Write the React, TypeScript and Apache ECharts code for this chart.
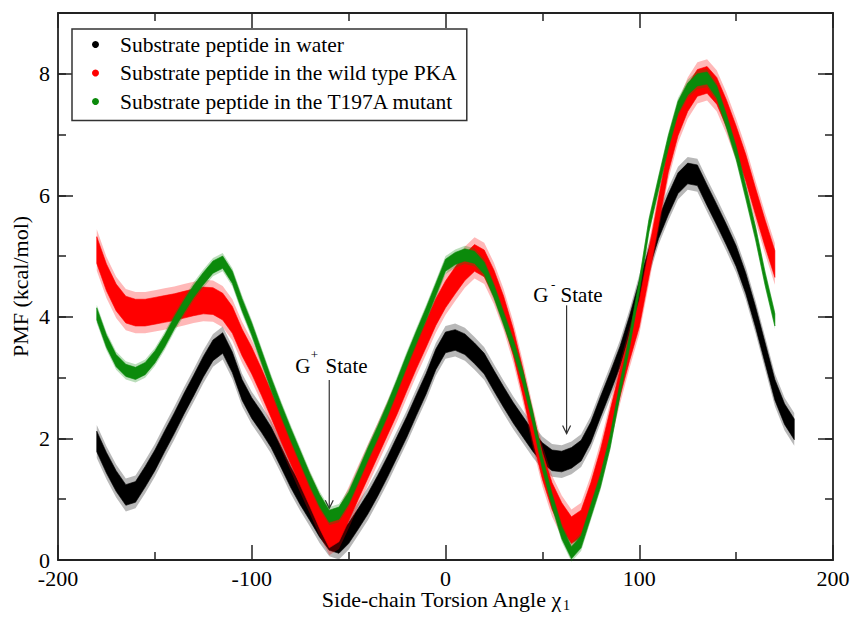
import React, { useEffect, useRef } from "react";
import * as echarts from "echarts";

// ---------- data ----------
const angles = [
  -180, -175, -170, -165, -160, -155, -150, -145, -140, -135, -130, -125, -120, -115, -110, -105,
  -100, -95, -90, -85, -80, -75, -70, -65, -60, -55, -50, -45, -40, -35, -30, -25, -20, -15, -10, -5,
  0, 5, 10, 15, 20, 25, 30, 35, 40, 45, 50, 55, 60, 65, 70, 75, 80, 85, 90, 95, 100, 105, 110, 115,
  120, 125, 130, 135, 140, 145, 150, 155, 160, 165, 170, 175, 180,
];

const waterPMF = [
  1.95, 1.6, 1.3, 1.07, 1.12, 1.37, 1.64, 1.95, 2.25, 2.57, 2.87, 3.18, 3.45, 3.57, 3.25, 2.8,
  2.5, 2.27, 2.02, 1.7, 1.37, 1.08, 0.82, 0.55, 0.33, 0.28, 0.44, 0.68, 0.93, 1.22, 1.53, 1.86, 2.19, 2.55, 2.9, 3.3,
  3.58, 3.62, 3.55, 3.4, 3.23, 2.95, 2.68, 2.42, 2.19, 1.96, 1.76, 1.64, 1.62, 1.68, 1.8, 2.1, 2.52, 2.92, 3.34, 3.85, 4.42, 4.95, 5.46, 5.85,
  6.2, 6.36, 6.33, 6.0, 5.68, 5.35, 5.0, 4.55, 4.0, 3.4, 2.8, 2.4, 2.15,
];

// wild type and mutant stop at 170 degrees
const wildTypePMF = [
  5.1, 4.65, 4.32, 4.12, 4.07, 4.07, 4.1, 4.13, 4.16, 4.2, 4.24, 4.27, 4.26, 4.17, 3.95, 3.58,
  3.28, 2.93, 2.56, 2.18, 1.81, 1.45, 1.1, 0.74, 0.42, 0.52, 0.86, 1.22, 1.57, 1.92, 2.27, 2.62, 3.0, 3.37, 3.72, 4.08,
  4.37, 4.6, 4.82, 4.97, 4.88, 4.55, 4.12, 3.58, 2.92, 2.2, 1.55, 1.05, 0.72, 0.49, 0.6, 1.05, 1.6, 2.25, 2.9, 3.5, 4.05, 4.88, 5.75, 6.6,
  7.2, 7.6, 7.85, 7.9, 7.72, 7.35, 6.92, 6.45, 5.9, 5.37, 4.87,
];

const mutantPMF = [
  4.05, 3.6, 3.28, 3.12, 3.07, 3.15, 3.34, 3.6, 3.9, 4.17, 4.42, 4.63, 4.82, 4.9, 4.65, 4.2,
  3.8, 3.35, 2.9, 2.48, 2.08, 1.7, 1.32, 0.98, 0.72, 0.77, 1.02, 1.38, 1.75, 2.1, 2.47, 2.87, 3.28, 3.67, 4.05, 4.45,
  4.85, 4.96, 5.02, 4.98, 4.8, 4.42, 3.97, 3.52, 3.0, 2.35, 1.6, 0.98, 0.45, 0.12, 0.3, 0.8, 1.3, 1.95, 2.8, 3.6, 4.5, 5.5, 6.2, 6.88,
  7.45, 7.75, 7.9, 7.93, 7.7, 7.22, 6.7, 6.05, 5.38, 4.62, 3.95,
];

// vertical spread (half width, kcal/mol) of each scatter cloud: dense core, sparse fringe
const waterSpread = [0.17, 0.27];
const wildTypeSpread = [0.22, 0.34];
const mutantSpread = [0.1, 0.15];

const seriesNames = [
  "Substrate peptide in water",
  "Substrate peptide in the wild type PKA",
  "Substrate peptide in the T197A mutant",
];
const seriesColors = ["#000000", "#ff0000", "#0b8a0b"];

const xTickMin = -200;
const xTickMax = 200;
const xTickStep = 100;
const yTickMin = 0;
const yTickMax = 9;
const yTickStep = 2;

// annotations: label, superscript, angle, arrow top PMF, arrow tip PMF
const annotationLabels = ["G", "G"];
const annotationSups = ["+", "-"];
const annotationAngles = [-60, 62.5];
const annotationTops = [2.96, 4.19];
const annotationTips = [0.85, 2.08];

const FONT = "Liberation Serif";

function bandSeries(name: string, xs: number[], ys: number[], spread: number[], color: string) {
  const [core, fringe] = spread;
  return {
    type: "custom",
    name,
    silent: true,
    itemStyle: { color },
    data: xs.map((x, i) => [x, ys[i] - core, ys[i] + core]),
    encode: { x: 0, y: [1, 2] },
    renderItem: (params: any, api: any) => {
      if (params.dataIndex !== 0) return null;
      const poly = (hw: number) =>
        xs
          .map((x, i) => api.coord([x, ys[i] + hw]))
          .concat(xs.map((x, i) => api.coord([x, ys[i] - hw])).reverse());
      return {
        type: "group",
        children: [
          { type: "polygon", shape: { points: poly(fringe) }, style: { fill: color, opacity: 0.28 } },
          { type: "polygon", shape: { points: poly(core) }, style: { fill: color, stroke: color, lineWidth: 0.6 } },
        ],
      };
    },
  };
}

const axisLineStyle = { color: "#222", width: 1.8 };
const tickStyle = { color: "#222", width: 1.5 };

export default function App() {
  const ref = useRef<HTMLDivElement>(null);

  useEffect(() => {
    if (!ref.current) return;
    const chart = echarts.init(ref.current, undefined, { renderer: "svg" });

    const angles170 = angles.filter((a) => a <= 170);

    const xBase = {
      type: "value",
      min: xTickMin,
      max: xTickMax,
      interval: xTickStep,
      splitLine: { show: false },
      axisLine: { show: true, onZero: false, lineStyle: axisLineStyle },
      axisTick: { show: true, inside: true, length: 15, lineStyle: tickStyle },
      minorTick: { show: true, splitNumber: 2, length: 8, lineStyle: tickStyle },
      nameMoveOverlap: false,
    };
    const yMajor = {
      type: "value",
      min: yTickMin,
      max: yTickMax,
      interval: yTickStep,
      splitLine: { show: false },
      axisLine: { show: true, onZero: false, lineStyle: axisLineStyle },
      axisTick: { show: true, inside: true, length: 15, lineStyle: tickStyle },
      nameMoveOverlap: false,
    };
    const yMinor = {
      type: "value",
      min: yTickMin,
      max: yTickMax,
      interval: 1,
      splitLine: { show: false },
      axisLine: { show: false, onZero: false },
      axisTick: { show: true, inside: true, length: 8, lineStyle: tickStyle },
      axisLabel: { show: false },
    };

    chart.setOption({
      animation: false,
      backgroundColor: "#ffffff",
      grid: { left: 58, right: 22, top: 13, bottom: 57, containLabel: false, outerBoundsMode: "none" },
      legend: {
        left: 72,
        top: 29,
        orient: "vertical",
        icon: "circle",
        itemWidth: 39,
        itemHeight: 7,
        itemGap: 6.5,
        padding: [4.5, 10, 8, 20],
        borderColor: "#333",
        borderWidth: 1.5,
        backgroundColor: "#fff",
        selectedMode: false,
        textStyle: { fontFamily: FONT, fontSize: 21.5, color: "#000", lineHeight: 21.5 },
        data: seriesNames.map((n, i) => ({ name: n, itemStyle: { color: seriesColors[i] } })),
      },
      xAxis: [
        {
          ...xBase,
          position: "bottom",
          axisLabel: { show: true, margin: 10, lineHeight: 16, fontFamily: FONT, fontSize: 22, color: "#000" },
          name: "{t|Side-chain Torsion Angle χ}{s|1}",
          nameLocation: "middle",
          nameGap: 28,
          nameTextStyle: {
            fontFamily: FONT,
            fontSize: 22,
            color: "#000",
            rich: {
              t: { fontFamily: FONT, fontSize: 22, lineHeight: 22, verticalAlign: "top", color: "#000" },
              s: { fontFamily: FONT, fontSize: 14, lineHeight: 14, verticalAlign: "top", padding: [10, 0, 0, 1], color: "#000" },
            },
          },
        },
        { ...xBase, position: "top", axisLabel: { show: false } },
      ],
      yAxis: [
        {
          ...yMajor,
          position: "left",
          axisLabel: {
            show: true,
            margin: 8,
            lineHeight: 16,
            fontFamily: FONT,
            fontSize: 22,
            color: "#000",
            formatter: (v: number) => (v % yTickStep === 0 ? String(v) : ""),
          },
          name: "PMF (kcal/mol)",
          nameLocation: "middle",
          nameGap: 27,
          nameTextStyle: { fontFamily: FONT, fontSize: 22, color: "#000" },
        },
        { ...yMajor, position: "right", axisLabel: { show: false } },
        { ...yMinor, position: "left" },
        { ...yMinor, position: "right" },
      ],
      series: [
        bandSeries(seriesNames[0], angles, waterPMF, waterSpread, seriesColors[0]),
        bandSeries(seriesNames[1], angles170, wildTypePMF, wildTypeSpread, seriesColors[1]),
        bandSeries(seriesNames[2], angles170, mutantPMF, mutantSpread, seriesColors[2]),
      ],
    });

    // annotations placed through the axes' own scales
    const toPx = (x: number, y: number) =>
      chart.convertToPixel({ xAxisIndex: 0, yAxisIndex: 0 }, [x, y]) as number[];
    const textLayout = [
      { gap: 14.5, supGap: 26, gLeft: -34, supLeft: -18.5, stateLeft: -3.7 },
      { gap: 10, supGap: 20.5, gLeft: -33.4, supLeft: -15.7, stateLeft: -6 },
    ];
    const graphics: any[] = [];
    annotationLabels.forEach((label, i) => {
      const [ax, top] = toPx(annotationAngles[i], annotationTops[i]);
      const [, tip] = toPx(annotationAngles[i], annotationTips[i]);
      const L = textLayout[i];
      const stroke = { stroke: "#333", lineWidth: 1.2, fill: "none" };
      graphics.push(
        { type: "line", shape: { x1: ax, y1: top, x2: ax, y2: tip }, style: stroke, silent: true },
        { type: "polyline", shape: { points: [[ax - 4, tip - 8], [ax, tip], [ax + 4, tip - 8]] }, style: stroke, silent: true },
        { type: "text", x: ax + L.gLeft, y: top - L.gap, style: { text: label, fontFamily: FONT, fontSize: 21, fill: "#000", align: "left", verticalAlign: "middle" }, silent: true },
        { type: "text", x: ax + L.supLeft, y: top - L.supGap, style: { text: annotationSups[i], fontFamily: FONT, fontSize: 13, fill: "#000", align: "left", verticalAlign: "middle" }, silent: true },
        { type: "text", x: ax + L.stateLeft, y: top - L.gap, style: { text: "State", fontFamily: FONT, fontSize: 21, fill: "#000", align: "left", verticalAlign: "middle" }, silent: true }
      );
    });
    chart.setOption({ graphic: graphics });

    return () => chart.dispose();
  }, []);

  return <div ref={ref} style={{ width: 855, height: 617, position: "absolute", left: 0, top: 0 }} />;
}
